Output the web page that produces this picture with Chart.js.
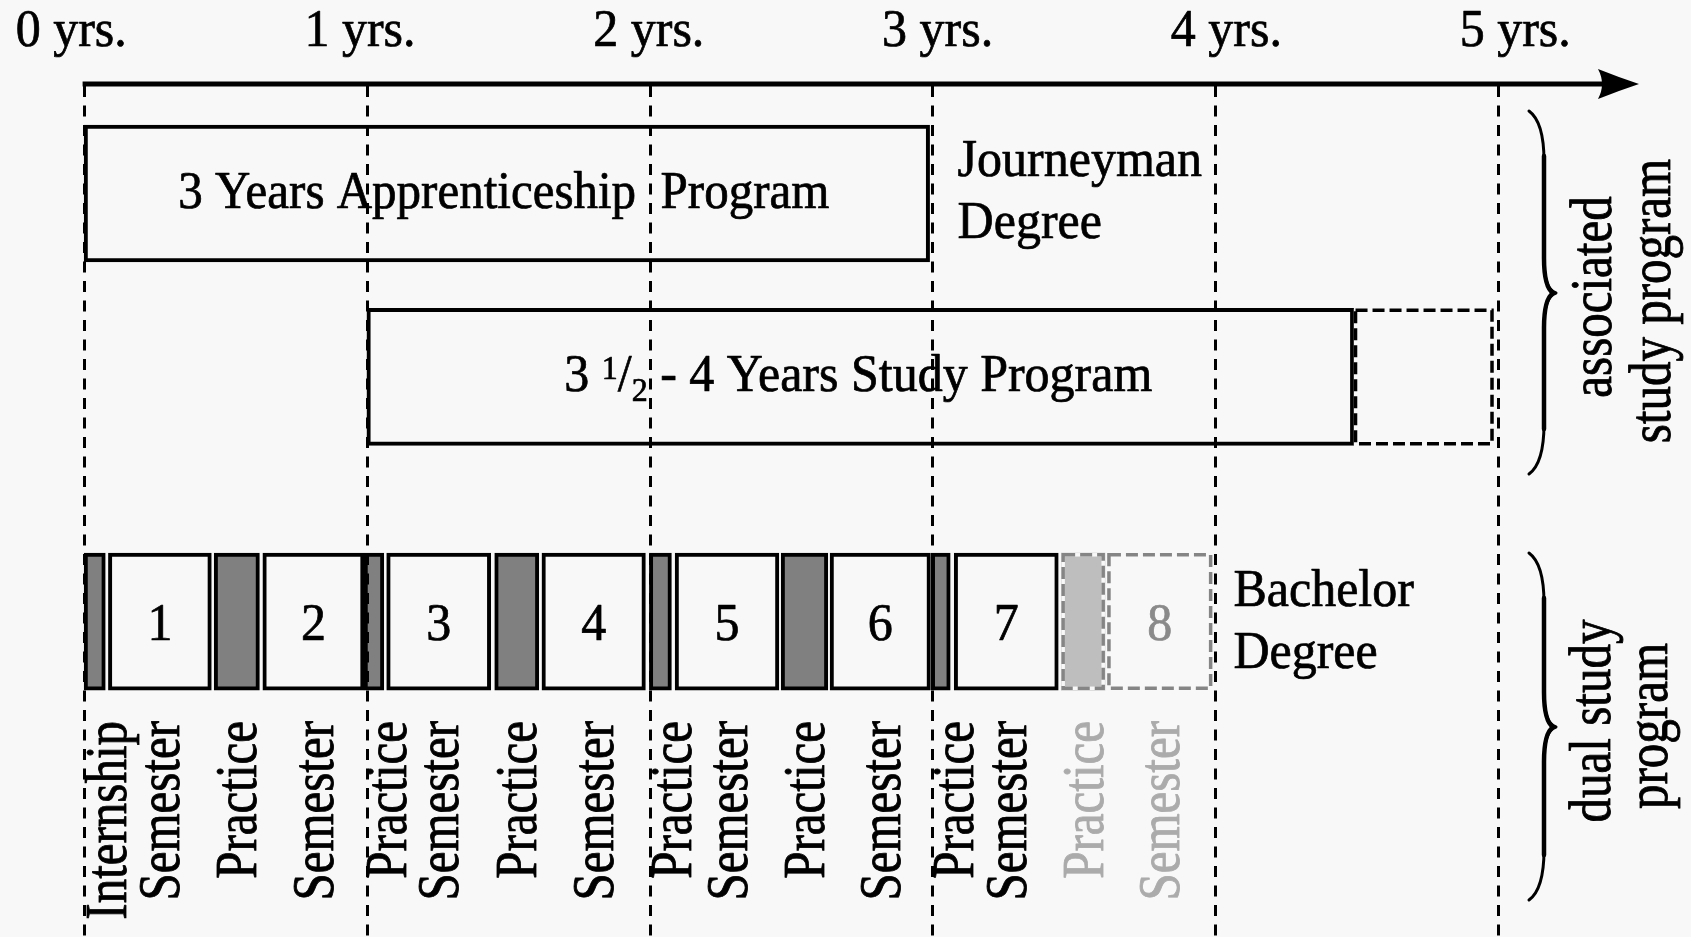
<!DOCTYPE html>
<html>
<head>
<meta charset="utf-8">
<script src="https://cdn.jsdelivr.net/npm/chart.js@4.4.1/dist/chart.umd.min.js"></script>
<style>
  html, body { margin: 0; padding: 0; background: #f8f8f8; }
  canvas { display: block; }
</style>
</head>
<body>
<canvas id="c" width="1691" height="937"></canvas>
<script>
// ---------------- data (years on the time axis) ----------------
const yearTicks  = [0, 1, 2, 3, 4, 5];
const yearLabels = ['0 yrs.', '1 yrs.', '2 yrs.', '3 yrs.', '4 yrs.', '5 yrs.'];

const apprenticeshipSpan  = [0, 2.99];
const apprenticeshipLabel = '3 Years Apprenticeship  Program';
const studySpan           = [1, 4.49];
const studyExtensionSpan  = [4.49, 4.985];
const studyLabelParts     = ['3 ', '1', '/', '2', ' - 4 Years Study Program'];

const journeymanLabel = ['Journeyman', 'Degree'];
const bachelorLabel   = ['Bachelor', 'Degree'];
const associatedLabel = ['associated', 'study program'];
const dualLabel       = ['dual study', 'program'];

const dualPhases = ['Internship', 'Semester', 'Practice', 'Semester', 'Practice', 'Semester',
                    'Practice', 'Semester', 'Practice', 'Semester', 'Practice', 'Semester',
                    'Practice', 'Semester', 'Practice', 'Semester'];
const dualStart = [0.0, 0.086, 0.46, 0.632, 0.99, 1.07, 1.452, 1.619, 1.999, 2.09, 2.465, 2.638, 2.996, 3.077, 3.456, 3.618];
const dualEnd   = [0.075, 0.45, 0.62, 0.99, 1.06, 1.438, 1.608, 1.985, 2.077, 2.457, 2.63, 2.993, 3.063, 3.445, 3.61, 3.99];
const dualOptional = [false, false, false, false, false, false, false, false,
                      false, false, false, false, false, false, true, true];
const semesterNumbers = ['', '1', '', '2', '', '3', '', '4', '', '5', '', '6', '', '7', '', '8'];

// ---------------- styling / layout ----------------
const BG = '#f8f8f8';
const SERIF = '"Liberation Serif", "Times New Roman", serif';
const lane = { appr: 0, study: 3, dual: 7 };   // lane positions on the hidden y scale
const BAR = 137;
const BW = 4;

function seg(span, l) { return { x: [span[0], span[1]], y: lane[l] }; }
function dualData(pred) {
  const out = [];
  dualPhases.forEach((p, i) => { if (pred(p, i)) out.push(seg([dualStart[i], dualEnd[i]], 'dual')); });
  return out;
}
const common = { barThickness: BAR, stack: 'lane', borderSkipped: false };

const datasets = [
  Object.assign({ label: 'apprenticeship', data: [seg(apprenticeshipSpan, 'appr')],
    backgroundColor: BG, borderColor: '#000', borderWidth: BW }, common),
  Object.assign({ label: 'study', data: [seg(studySpan, 'study')],
    backgroundColor: BG, borderColor: '#000', borderWidth: BW }, common),
  Object.assign({ label: 'study ext', data: [seg(studyExtensionSpan, 'study')],
    backgroundColor: 'rgba(0,0,0,0)', borderWidth: 0,
    dashOutline: { color: '#000', width: 3.5, dash: [12, 5] } }, common),
  Object.assign({ label: 'practice', data: dualData((p, i) => p !== 'Semester' && !dualOptional[i]),
    backgroundColor: '#808080', borderColor: '#000', borderWidth: BW }, common),
  Object.assign({ label: 'semester', data: dualData((p, i) => p === 'Semester' && !dualOptional[i]),
    backgroundColor: BG, borderColor: '#000', borderWidth: BW }, common),
  Object.assign({ label: 'practice opt', data: dualData((p, i) => p !== 'Semester' && dualOptional[i]),
    backgroundColor: '#bebebe', borderWidth: 0,
    dashOutline: { color: '#858585', width: 3.5, dash: [12, 5] } }, common),
  Object.assign({ label: 'semester opt', data: dualData((p, i) => p === 'Semester' && dualOptional[i]),
    backgroundColor: BG, borderWidth: 0,
    dashOutline: { color: '#858585', width: 3.5, dash: [12, 5] } }, common)
];

function paintText(ctx, txt, color) {
  ctx.fillStyle = color;
  ctx.strokeStyle = color;
  ctx.lineWidth = 0.7;
  ctx.lineJoin = 'round';
  ctx.fillText(txt, 0, 0);
  ctx.strokeText(txt, 0, 0);
}
function hText(ctx, txt, x, y, size, align, color) {
  ctx.save();
  ctx.font = size + 'px ' + SERIF;
  ctx.textAlign = align || 'left';
  ctx.textBaseline = 'alphabetic';
  ctx.translate(x, y);
  ctx.scale(1, 1.07);
  paintText(ctx, txt, color || '#000');
  ctx.restore();
}
function vText(ctx, txt, xBase, yAnchor, size, align, color) {
  ctx.save();
  ctx.font = size + 'px ' + SERIF;
  ctx.textAlign = align;
  ctx.textBaseline = 'alphabetic';
  ctx.translate(xBase, yAnchor);
  ctx.rotate(-Math.PI / 2);
  ctx.scale(1, 1.2);
  paintText(ctx, txt, color || '#000');
  ctx.restore();
}
function brace(ctx, xEnd, xMid, xTip, top, mid, bottom) {
  ctx.save();
  ctx.strokeStyle = '#000';
  ctx.lineCap = 'round';
  ctx.lineJoin = 'round';
  ctx.lineWidth = 3;
  ctx.beginPath();
  ctx.moveTo(xEnd, top);
  ctx.bezierCurveTo(xMid - 4, top + 8, xMid, top + 25, xMid, top + 50);
  ctx.lineTo(xMid, mid - 35);
  ctx.bezierCurveTo(xMid, mid - 12, xMid + 4, mid - 3, xTip, mid);
  ctx.bezierCurveTo(xMid + 4, mid + 3, xMid, mid + 12, xMid, mid + 35);
  ctx.lineTo(xMid, bottom - 50);
  ctx.bezierCurveTo(xMid, bottom - 25, xMid - 4, bottom - 8, xEnd, bottom);
  ctx.stroke();
  ctx.lineWidth = 4.5;
  ctx.beginPath();
  ctx.moveTo(xMid, top + 45);
  ctx.lineTo(xMid, mid - 35);
  ctx.bezierCurveTo(xMid, mid - 14, xMid + 3, mid - 4, xTip - 3, mid);
  ctx.moveTo(xTip - 3, mid);
  ctx.bezierCurveTo(xMid + 3, mid + 4, xMid, mid + 14, xMid, mid + 35);
  ctx.lineTo(xMid, bottom - 45);
  ctx.stroke();
  ctx.restore();
}

const timelinePlugin = {
  id: 'timeline',
  beforeDraw(chart) {
    const ctx = chart.ctx;
    ctx.save();
    ctx.fillStyle = BG;
    ctx.fillRect(0, 0, chart.width, chart.height);
    ctx.restore();
  },
  afterDatasetsDraw(chart) {
    const ctx = chart.ctx;
    const xs = chart.scales.x, xt = chart.scales.xTop, ys = chart.scales.y;
    const X = v => xs.getPixelForValue(v);
    const Y = l => ys.getPixelForValue(lane[l]);

    // dashed outlines for optional segments
    chart.data.datasets.forEach((ds, i) => {
      if (!ds.dashOutline) return;
      chart.getDatasetMeta(i).data.forEach(el => {
        const p = el.getProps(['x', 'y', 'base', 'height'], true);
        const l = Math.min(p.x, p.base), r = Math.max(p.x, p.base);
        const t = p.y - p.height / 2, b = p.y + p.height / 2;
        const w = ds.dashOutline.width, h = w / 2;
        ctx.save();
        ctx.lineWidth = w;
        ctx.strokeStyle = BG;
        ctx.strokeRect(l + h, t + h, r - l - w, b - t - w);
        ctx.strokeStyle = ds.dashOutline.color;
        ctx.setLineDash(ds.dashOutline.dash);
        ctx.strokeRect(l + h, t + h, r - l - w, b - t - w);
        ctx.restore();
      });
    });

    // program labels
    hText(ctx, apprenticeshipLabel, (X(apprenticeshipSpan[0]) + X(apprenticeshipSpan[1])) / 2 - 3,
          Y('appr') + 14.5, 49, 'center');
    const partStyle = [{ s: 50, dy: 0 }, { s: 32, dy: -12 }, { s: 50, dy: 0 }, { s: 32, dy: 10 }, { s: 50, dy: 0 }];
    ctx.save();
    let total = 0;
    const widths = studyLabelParts.map((t, i) => {
      ctx.font = partStyle[i].s + 'px ' + SERIF;
      const w = ctx.measureText(t).width; total += w; return w;
    });
    ctx.restore();
    let sx = (X(studySpan[0]) + X(studySpan[1])) / 2 - total / 2 - 2;
    const sy = Y('study') + 14;
    studyLabelParts.forEach((t, i) => {
      hText(ctx, t, sx, sy + partStyle[i].dy, partStyle[i].s, 'left');
      sx += widths[i];
    });

    // degree labels
    journeymanLabel.forEach((t, i) =>
      hText(ctx, t, X(apprenticeshipSpan[1]) + 28, Y('appr') - 17.5 + 62 * i, 50, 'left'));
    bachelorLabel.forEach((t, i) =>
      hText(ctx, t, X(dualEnd[dualEnd.length - 1]) + 21, Y('dual') - 15.5 + 61.5 * i, 50, 'left'));

    // semester numbers + phase labels
    dualPhases.forEach((p, i) => {
      const s = X(dualStart[i]), e = X(dualEnd[i]), c = (s + e) / 2;
      const color = dualOptional[i] ? '#8a8a8a' : '#000';
      if (semesterNumbers[i]) hText(ctx, semesterNumbers[i], c, Y('dual') + 18, 50, 'center', color);
      const lx = Math.max(c, s + 22);
      vText(ctx, p, lx + 19.5, 721, 49, 'right', dualOptional[i] ? '#ababab' : '#000');
    });

    // year tick labels
    yearTicks.forEach((t, i) => hText(ctx, yearLabels[i], xt.getPixelForValue(t), 46, 50, 'center'));

    // braces + group labels
    const x5 = X(yearTicks[yearTicks.length - 1]);
    brace(ctx, x5 + 31, x5 + 46, x5 + 58, 111, 293, 474);
    brace(ctx, x5 + 31, x5 + 46, x5 + 58, 553, 727, 900);
    vText(ctx, associatedLabel[0], x5 + 113, 297, 49, 'center');
    vText(ctx, associatedLabel[1], x5 + 172, 301, 49, 'center');
    vText(ctx, dualLabel[0], x5 + 112, 721, 49, 'center');
    vText(ctx, dualLabel[1], x5 + 169, 726, 49, 'center');

    // dashed year lines
    ctx.save();
    ctx.strokeStyle = '#000';
    ctx.lineWidth = 3;
    ctx.setLineDash([11, 8.5]);
    yearTicks.forEach(t => {
      const px = Math.round(X(t)) + 0.5;
      ctx.beginPath();
      ctx.moveTo(px, 86);
      ctx.lineTo(px, chart.height);
      ctx.stroke();
    });
    ctx.restore();

    // time axis arrow
    const x0 = X(yearTicks[0]);
    ctx.save();
    ctx.strokeStyle = '#000';
    ctx.fillStyle = '#000';
    ctx.lineWidth = 5;
    ctx.beginPath();
    ctx.moveTo(x0 - 1.5, 84);
    ctx.lineTo(x5 + 108, 84);
    ctx.stroke();
    ctx.beginPath();
    ctx.moveTo(x5 + 141, 84);
    ctx.quadraticCurveTo(x5 + 120, 77, x5 + 100, 69);
    ctx.quadraticCurveTo(x5 + 108, 84, x5 + 100, 99);
    ctx.quadraticCurveTo(x5 + 120, 91, x5 + 141, 84);
    ctx.closePath();
    ctx.fill();
    ctx.restore();
  }
};

new Chart(document.getElementById('c'), {
  type: 'bar',
  data: { datasets },
  plugins: [timelinePlugin],
  options: {
    indexAxis: 'y',
    responsive: false,
    animation: false,
    devicePixelRatio: 1,
    layout: { padding: 0 },
    plugins: { legend: { display: false }, tooltip: { enabled: false } },
    scales: {
      x: { type: 'linear', min: -0.29741, max: 5.68251, display: false, stacked: false },
      xTop: { type: 'linear', axis: 'x', position: 'top', min: -0.24654, max: 5.60873, display: false },
      y: { type: 'linear', min: -3.1643, max: 12.1586, reverse: true, display: false, offset: false }
    }
  }
});
</script>
</body>
</html>
